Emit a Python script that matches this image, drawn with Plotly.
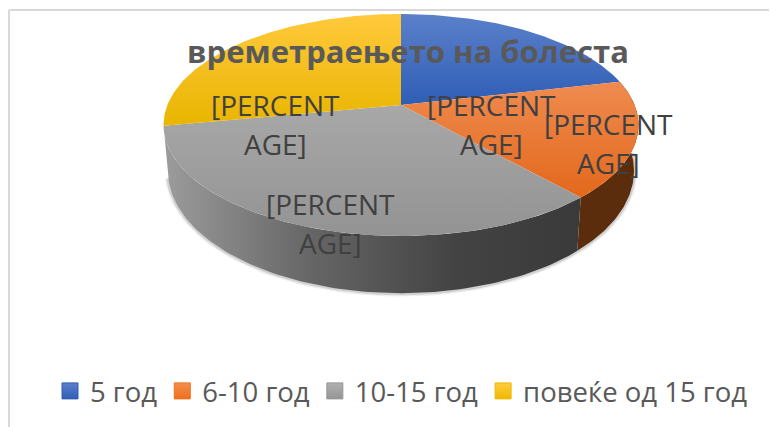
import math
import plotly.graph_objects as go

categories = ["5 год", "6-10 год", "10-15 год", "повеќе од 15 год"]
values = [21.4, 17.0, 33.6, 28.0]
title_text = "времетраењето на болеста"
label_text = ["[PERCENT", "AGE]"]

top_grad = [("#5b80ca", "#2f5eb6"), ("#ef8b50", "#e3681b"), ("#a8a8a8", "#939393"), ("#ffc93c", "#e9b500")]
legend_grad = [("#5b80ca", "#2f5eb6"), ("#f58e50", "#ee6f1d"), ("#b0b0b0", "#959595"), ("#ffcc3c", "#efb900")]
FONT = "Open Sans"
K = 0.18
TOP = dict(X=401, Y=105, Rx=233.6, Ry=107.4)
BOT = dict(X=401, Y=149, Rx=229.2, Ry=118.2)
PAGE_MARGIN = 8  # the page body offsets the figure


def rim(p, deg):
    a = math.radians(deg)
    u, v = math.sin(a), math.cos(a)
    w = 1 + K * v
    return p["X"] + p["Rx"] * u / w, p["Y"] - p["Ry"] * v / w


def arc(p, a, b, n=90):
    pts = [rim(p, a + (b - a) * i / n) for i in range(n + 1)]
    return [q[0] for q in pts], [q[1] for q in pts]


total = sum(values)
edges = [0]
for val in values:
    edges.append(edges[-1] + val / total * 360)

fig = go.Figure()

# soft shadow under the disc
sx, sy = arc(BOT, edges[1] + 15, edges[3] - 3)
for width, col in [(7, "rgba(90,90,90,0.10)"), (4, "rgba(70,70,70,0.18)")]:
    fig.add_trace(go.Scatter(x=sx, y=sy, mode="lines", line=dict(color=col, width=width),
                             showlegend=False, hoverinfo="skip"))


def wall(a, b, **style):
    tx, ty = arc(TOP, a, b)
    bx, by = arc(BOT, a, b)
    fig.add_trace(go.Scatter(x=tx + bx[::-1] + [tx[0]], y=ty + by[::-1] + [ty[0]], mode="lines",
                             line=dict(width=0), fill="toself", showlegend=False, hoverinfo="skip", **style))


wall(edges[1], edges[2], fillcolor="#5c2d0d")
wall(edges[2], edges[3], fillgradient=dict(type="horizontal",
     colorscale=[[0, "#9c9c9c"], [0.35, "#666666"], [0.7, "#434343"], [1, "#3a3a3a"]]))

# top faces
for i, name in enumerate(categories):
    ax, ay = arc(TOP, edges[i], edges[i + 1])
    c0, c1 = top_grad[i]
    fig.add_trace(go.Scatter(x=[TOP["X"]] + ax + [TOP["X"]], y=[TOP["Y"]] + ay + [TOP["Y"]], mode="lines",
                             line=dict(width=0), fill="toself",
                             fillgradient=dict(type="vertical", colorscale=[[0, c1], [1, c0]]),
                             showlegend=False, hoverinfo="skip"))

# legend entries
for i, name in enumerate(categories):
    c0, c1 = legend_grad[i]
    fig.add_trace(go.Scatter(x=[None], y=[None], mode="markers", name=name,
                             marker=dict(symbol="square", size=16, color=c0,
                                         gradient=dict(type="vertical", color=c1),
                                         line=dict(width=1, color=c1))))

# data labels
label_centres = [(491, 124), (608, 143), (330, 223), (275, 124)]
LINE = 19.5
annotations = []
for cx, cy in label_centres:
    for j, line in enumerate(label_text):
        annotations.append(dict(x=cx, y=cy + (j * 2 - 1) * LINE, text=line, showarrow=False,
                                font=dict(family=FONT, size=28, color="#404040"),
                                xanchor="center", yanchor="middle"))

W, H = 777 - PAGE_MARGIN, 427 - PAGE_MARGIN
fig.update_layout(
    width=W, height=H, autosize=False,
    margin=dict(l=0, r=0, t=0, b=0),
    paper_bgcolor="white", plot_bgcolor="white",
    title=dict(text=f"<b>{title_text}</b>", x=(408 - PAGE_MARGIN) / W, xanchor="center", xref="paper",
               y=1 - (52 - PAGE_MARGIN) / H, yanchor="middle", yref="container",
               font=dict(family=FONT, size=31, color="#595959")),
    xaxis=dict(range=[PAGE_MARGIN, 777], visible=False, fixedrange=True),
    yaxis=dict(range=[427, PAGE_MARGIN], visible=False, fixedrange=True),
    legend=dict(orientation="h", x=(50 - PAGE_MARGIN) / W, xanchor="left", y=1 - (391 - PAGE_MARGIN) / H, yanchor="middle",
                font=dict(family=FONT, size=27.5, color="#595959"), itemsizing="trace",
                bgcolor="rgba(0,0,0,0)"),
    annotations=annotations,
    shapes=[
        dict(type="line", x0=9, x1=9, y0=10, y1=427, line=dict(color="#d8d8d8", width=2)),
        dict(type="line", x0=9, x1=777, y0=10, y1=10, line=dict(color="#d8d8d8", width=2)),
    ],
    showlegend=True,
)
fig.write_html("out.html")
